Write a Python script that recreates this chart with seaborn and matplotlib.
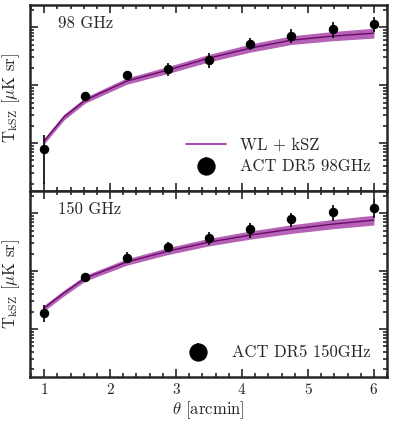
import matplotlib
matplotlib.use("Agg")
import matplotlib.pyplot as plt
from matplotlib.ticker import MultipleLocator, LogLocator, NullFormatter
import seaborn as sns
import numpy as np

# aperture radii (arcmin)
theta = [1.0, 1.625, 2.25, 2.875, 3.5, 4.125, 4.75, 5.375, 6.0]

# ACT DR5 stacked profiles (value, lower, upper) in muK sr
t98 = [7.9e-9, 6.46e-8, 1.49e-7, 1.89e-7, 2.70e-7, 5.09e-7, 7.0e-7, 9.2e-7, 1.13e-6]
t98_lo = [2.0e-9, 5.5e-8, 1.27e-7, 1.43e-7, 1.96e-7, 4.01e-7, 5.3e-7, 6.46e-7, 8.2e-7]
t98_hi = [1.37e-8, 7.57e-8, 1.74e-7, 2.39e-7, 3.56e-7, 6.46e-7, 9.2e-7, 1.22e-6, 1.49e-6]

t150 = [1.89e-8, 7.88e-8, 1.68e-7, 2.6e-7, 3.71e-7, 5.3e-7, 7.88e-7, 1.04e-6, 1.22e-6]
t150_lo = [1.32e-8, 6.73e-8, 1.37e-7, 2.13e-7, 2.81e-7, 3.71e-7, 5.74e-7, 7.28e-7, 8.2e-7]
t150_hi = [2.59e-8, 8.87e-8, 2.13e-7, 3.16e-7, 4.7e-7, 6.73e-7, 1.0e-6, 1.37e-6, 1.74e-6]

# WL + kSZ model curve and its band (half width in dex)
theta_mod = [1.0, 1.3, 1.625, 2.25, 2.875, 3.5, 4.125, 4.75, 5.375, 6.0]
mod98 = [1.08e-8, 2.8e-8, 5.51e-8, 1.17e-7, 1.82e-7, 2.92e-7, 4.35e-7, 5.97e-7, 7.0e-7, 7.88e-7]
mod150 = [2.30e-8, 4.18e-8, 7.57e-8, 1.43e-7, 2.21e-7, 3.16e-7, 4.18e-7, 5.3e-7, 6.46e-7, 7.57e-7]
band_dex = [0.05, 0.05, 0.05, 0.055, 0.06, 0.065, 0.07, 0.075, 0.08, 0.085]

sns.set_style("ticks")
plt.rcParams["font.family"] = ["cmr10", "DejaVu Serif"]
plt.rcParams["mathtext.fontset"] = "cm"
plt.rcParams["axes.formatter.use_mathtext"] = True

line_c = "#6a0a6a"
band_c = "#a33aa3"

fig, axes = plt.subplots(2, 1, figsize=(3.95, 4.28), dpi=100, sharex=True, sharey=True)
fig.subplots_adjust(left=0.075, right=0.98, top=0.988, bottom=0.119, hspace=0)

panels = [
    (axes[0], t98, t98_lo, t98_hi, mod98, "98 GHz", "ACT DR5 98GHz", True),
    (axes[1], t150, t150_lo, t150_hi, mod150, "150 GHz", "ACT DR5 150GHz", False),
]

for ax, t, lo, hi, mod, tag, lab, show_model in panels:
    mod = np.array(mod)
    bd = np.array(band_dex)
    ax.fill_between(theta_mod, mod * 10 ** (-bd), mod * 10 ** bd, color=band_c, alpha=0.8, lw=0)
    sns.lineplot(x=theta_mod, y=mod, ax=ax, color=line_c, lw=1.0, legend=False)
    if show_model:
        ax.plot([], [], color="#a020a0", lw=1.2, label="WL + kSZ")
    t = np.array(t)
    yerr = [t - np.array(lo), np.array(hi) - t]
    ax.errorbar(theta, t, yerr=yerr, fmt="o", color="k", ms=5.8, elinewidth=1.2, capsize=0, label=lab)
    ax.set_yscale("log")
    ax.set_ylim(1.48e-9, 2.4e-6)
    ax.set_xlim(0.78, 6.2)
    ax.text(0.08, 0.9, tag, transform=ax.transAxes, fontsize=12, ha="left", va="center")
    ax.set_ylabel(r"T$_{\rm kSZ}$ [$\mu$K sr]", fontsize=12)
    ax.yaxis.set_label_coords(-0.022, 0.5)
    ax.legend(loc="lower right", frameon=False, fontsize=12, markerscale=2.1,
              handlelength=2.4, handletextpad=0.8, borderaxespad=0.6, labelspacing=0.4)
    ax.yaxis.set_major_locator(LogLocator(base=10, numticks=10))
    ax.yaxis.set_minor_locator(LogLocator(base=10, subs=np.arange(2, 10), numticks=10))
    ax.yaxis.set_major_formatter(NullFormatter())
    ax.yaxis.set_minor_formatter(NullFormatter())
    ax.xaxis.set_major_locator(MultipleLocator(1))
    ax.xaxis.set_minor_locator(MultipleLocator(0.2))
    ax.tick_params(which="both", direction="in", top=True, right=True, width=1.2, labelsize=11)
    ax.tick_params(which="major", length=6)
    ax.tick_params(which="minor", length=3)
    for s in ax.spines.values():
        s.set_linewidth(1.8)

axes[1].set_xlabel(r"$\theta$ [arcmin]", fontsize=12, labelpad=2)

fig.savefig("out.png", dpi=100)
